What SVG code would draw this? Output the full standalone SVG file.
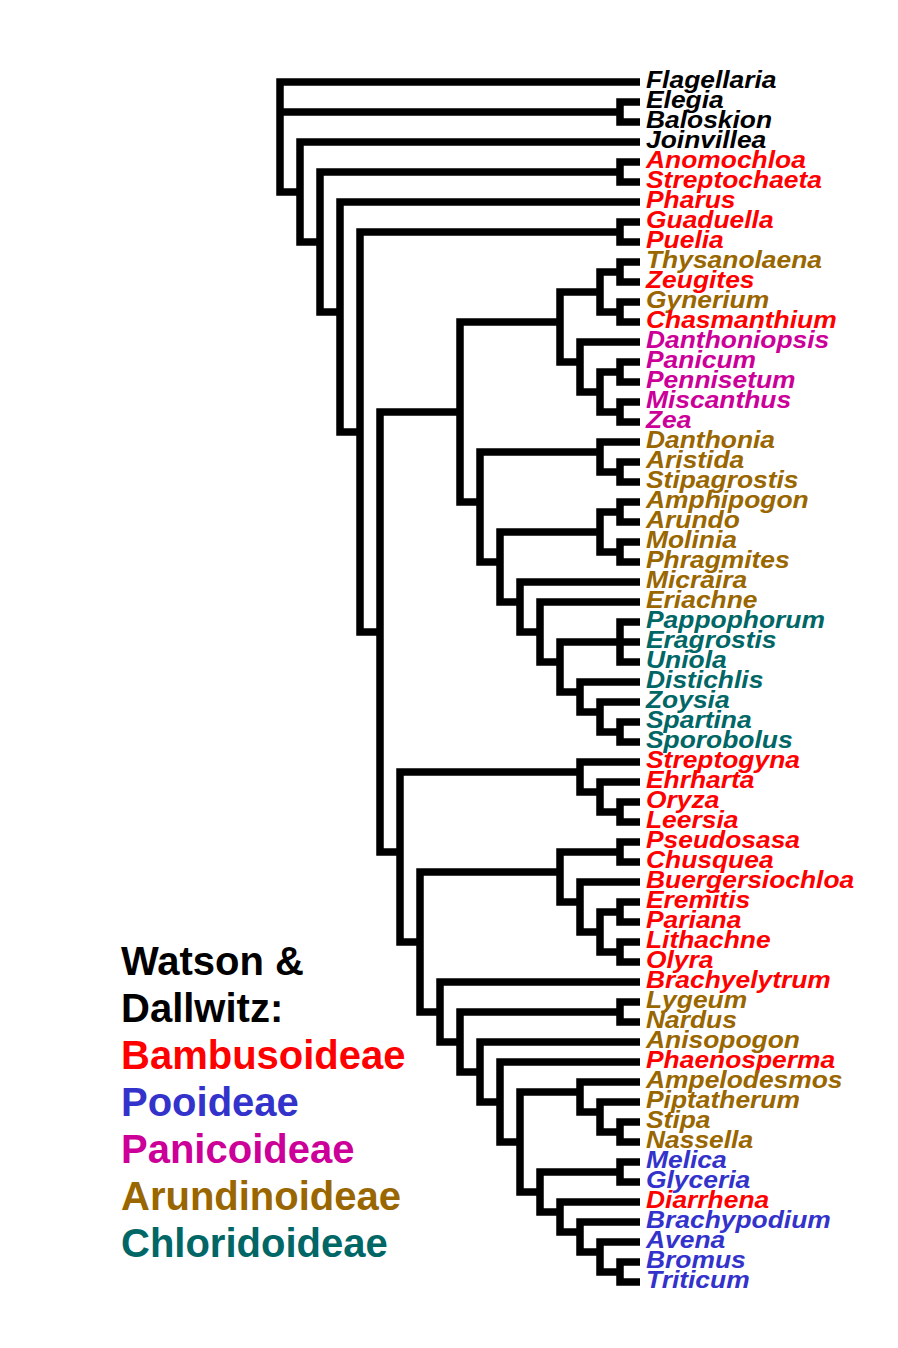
<svg xmlns="http://www.w3.org/2000/svg" width="898" height="1348" viewBox="0 0 898 1348">
<style>
.br{fill:none;stroke:#000;stroke-width:7.5;stroke-linejoin:miter;stroke-linecap:butt}
.lf{font-family:"Liberation Sans",Arial,sans-serif;font-weight:bold;font-style:italic;font-size:24px}
.lg{font-family:"Liberation Sans",Arial,sans-serif;font-weight:bold;font-size:40px}
.k{fill:#000}.r{fill:#ff0000}.b{fill:#3333cc}.m{fill:#cc0099}.a{fill:#996600}.c{fill:#006666}
</style>
<rect width="898" height="1348" fill="#fff"/>
<g id="connectors" class="br">
<path d="M640,82H280V192H300M280,112H620"/>
<path d="M640,102H620V122H640"/>
<path d="M640,142H300V242H320"/>
<path d="M620,172H320V312H340"/>
<path d="M640,162H620V182H640"/>
<path d="M640,202H340V432H360"/>
<path d="M620,232H360V632H380"/>
<path d="M640,222H620V242H640"/>
<path d="M460,412H380V852H400"/>
<path d="M560,322H460V502H480"/>
<path d="M600,292H560V362H580"/>
<path d="M620,272H600V312H620"/>
<path d="M640,262H620V282H640"/>
<path d="M640,302H620V322H640"/>
<path d="M640,342H580V392H600"/>
<path d="M620,372H600V412H620"/>
<path d="M640,362H620V382H640"/>
<path d="M640,402H620V422H640"/>
<path d="M600,452H480V562H500"/>
<path d="M640,442H600V472H620"/>
<path d="M640,462H620V482H640"/>
<path d="M600,532H500V602H520"/>
<path d="M620,512H600V552H620"/>
<path d="M640,502H620V522H640"/>
<path d="M640,542H620V562H640"/>
<path d="M640,582H520V632H540"/>
<path d="M640,602H540V662H560"/>
<path d="M620,642H560V692H580"/>
<path d="M640,622H620V662H640M620,642H640"/>
<path d="M640,682H580V712H600"/>
<path d="M640,702H600V732H620"/>
<path d="M640,722H620V742H640"/>
<path d="M580,772H400V942H420"/>
<path d="M640,762H580V792H600"/>
<path d="M640,782H600V812H620"/>
<path d="M640,802H620V822H640"/>
<path d="M560,872H420V1012H440"/>
<path d="M620,852H560V902H580"/>
<path d="M640,842H620V862H640"/>
<path d="M640,882H580V932H600"/>
<path d="M620,912H600V952H620"/>
<path d="M640,902H620V922H640"/>
<path d="M640,942H620V962H640"/>
<path d="M640,982H440V1042H460"/>
<path d="M620,1012H460V1072H480"/>
<path d="M640,1002H620V1022H640"/>
<path d="M640,1042H480V1102H500"/>
<path d="M640,1062H500V1142H520"/>
<path d="M580,1092H520V1192H540"/>
<path d="M640,1082H580V1112H600"/>
<path d="M640,1102H600V1132H620"/>
<path d="M640,1122H620V1142H640"/>
<path d="M620,1172H540V1212H560"/>
<path d="M640,1162H620V1182H640"/>
<path d="M640,1202H560V1232H580"/>
<path d="M640,1222H580V1252H600"/>
<path d="M640,1242H600V1272H620"/>
<path d="M640,1262H620V1282H640"/>
</g>
<g class="lf">
<g id="leaf-Flagellaria"><text class="k" transform="translate(646,87.5) scale(1.1,1)">Flagellaria</text></g>
<g id="leaf-Elegia"><text class="k" transform="translate(646,107.5) scale(1.1,1)">Elegia</text></g>
<g id="leaf-Baloskion"><text class="k" transform="translate(646,127.5) scale(1.1,1)">Baloskion</text></g>
<g id="leaf-Joinvillea"><text class="k" transform="translate(646,147.5) scale(1.1,1)">Joinvillea</text></g>
<g id="leaf-Anomochloa"><text class="r" transform="translate(646,167.5) scale(1.1,1)">Anomochloa</text></g>
<g id="leaf-Streptochaeta"><text class="r" transform="translate(646,187.5) scale(1.1,1)">Streptochaeta</text></g>
<g id="leaf-Pharus"><text class="r" transform="translate(646,207.5) scale(1.1,1)">Pharus</text></g>
<g id="leaf-Guaduella"><text class="r" transform="translate(646,227.5) scale(1.1,1)">Guaduella</text></g>
<g id="leaf-Puelia"><text class="r" transform="translate(646,247.5) scale(1.1,1)">Puelia</text></g>
<g id="leaf-Thysanolaena"><text class="a" transform="translate(646,267.5) scale(1.1,1)">Thysanolaena</text></g>
<g id="leaf-Zeugites"><text class="r" transform="translate(646,287.5) scale(1.1,1)">Zeugites</text></g>
<g id="leaf-Gynerium"><text class="a" transform="translate(646,307.5) scale(1.1,1)">Gynerium</text></g>
<g id="leaf-Chasmanthium"><text class="r" transform="translate(646,327.5) scale(1.1,1)">Chasmanthium</text></g>
<g id="leaf-Danthoniopsis"><text class="m" transform="translate(646,347.5) scale(1.1,1)">Danthoniopsis</text></g>
<g id="leaf-Panicum"><text class="m" transform="translate(646,367.5) scale(1.1,1)">Panicum</text></g>
<g id="leaf-Pennisetum"><text class="m" transform="translate(646,387.5) scale(1.1,1)">Pennisetum</text></g>
<g id="leaf-Miscanthus"><text class="m" transform="translate(646,407.5) scale(1.1,1)">Miscanthus</text></g>
<g id="leaf-Zea"><text class="m" transform="translate(646,427.5) scale(1.1,1)">Zea</text></g>
<g id="leaf-Danthonia"><text class="a" transform="translate(646,447.5) scale(1.1,1)">Danthonia</text></g>
<g id="leaf-Aristida"><text class="a" transform="translate(646,467.5) scale(1.1,1)">Aristida</text></g>
<g id="leaf-Stipagrostis"><text class="a" transform="translate(646,487.5) scale(1.1,1)">Stipagrostis</text></g>
<g id="leaf-Amphipogon"><text class="a" transform="translate(646,507.5) scale(1.1,1)">Amphipogon</text></g>
<g id="leaf-Arundo"><text class="a" transform="translate(646,527.5) scale(1.1,1)">Arundo</text></g>
<g id="leaf-Molinia"><text class="a" transform="translate(646,547.5) scale(1.1,1)">Molinia</text></g>
<g id="leaf-Phragmites"><text class="a" transform="translate(646,567.5) scale(1.1,1)">Phragmites</text></g>
<g id="leaf-Micraira"><text class="a" transform="translate(646,587.5) scale(1.1,1)">Micraira</text></g>
<g id="leaf-Eriachne"><text class="a" transform="translate(646,607.5) scale(1.1,1)">Eriachne</text></g>
<g id="leaf-Pappophorum"><text class="c" transform="translate(646,627.5) scale(1.1,1)">Pappophorum</text></g>
<g id="leaf-Eragrostis"><text class="c" transform="translate(646,647.5) scale(1.1,1)">Eragrostis</text></g>
<g id="leaf-Uniola"><text class="c" transform="translate(646,667.5) scale(1.1,1)">Uniola</text></g>
<g id="leaf-Distichlis"><text class="c" transform="translate(646,687.5) scale(1.1,1)">Distichlis</text></g>
<g id="leaf-Zoysia"><text class="c" transform="translate(646,707.5) scale(1.1,1)">Zoysia</text></g>
<g id="leaf-Spartina"><text class="c" transform="translate(646,727.5) scale(1.1,1)">Spartina</text></g>
<g id="leaf-Sporobolus"><text class="c" transform="translate(646,747.5) scale(1.1,1)">Sporobolus</text></g>
<g id="leaf-Streptogyna"><text class="r" transform="translate(646,767.5) scale(1.1,1)">Streptogyna</text></g>
<g id="leaf-Ehrharta"><text class="r" transform="translate(646,787.5) scale(1.1,1)">Ehrharta</text></g>
<g id="leaf-Oryza"><text class="r" transform="translate(646,807.5) scale(1.1,1)">Oryza</text></g>
<g id="leaf-Leersia"><text class="r" transform="translate(646,827.5) scale(1.1,1)">Leersia</text></g>
<g id="leaf-Pseudosasa"><text class="r" transform="translate(646,847.5) scale(1.1,1)">Pseudosasa</text></g>
<g id="leaf-Chusquea"><text class="r" transform="translate(646,867.5) scale(1.1,1)">Chusquea</text></g>
<g id="leaf-Buergersiochloa"><text class="r" transform="translate(646,887.5) scale(1.1,1)">Buergersiochloa</text></g>
<g id="leaf-Eremitis"><text class="r" transform="translate(646,907.5) scale(1.1,1)">Eremitis</text></g>
<g id="leaf-Pariana"><text class="r" transform="translate(646,927.5) scale(1.1,1)">Pariana</text></g>
<g id="leaf-Lithachne"><text class="r" transform="translate(646,947.5) scale(1.1,1)">Lithachne</text></g>
<g id="leaf-Olyra"><text class="r" transform="translate(646,967.5) scale(1.1,1)">Olyra</text></g>
<g id="leaf-Brachyelytrum"><text class="r" transform="translate(646,987.5) scale(1.1,1)">Brachyelytrum</text></g>
<g id="leaf-Lygeum"><text class="a" transform="translate(646,1007.5) scale(1.1,1)">Lygeum</text></g>
<g id="leaf-Nardus"><text class="a" transform="translate(646,1027.5) scale(1.1,1)">Nardus</text></g>
<g id="leaf-Anisopogon"><text class="a" transform="translate(646,1047.5) scale(1.1,1)">Anisopogon</text></g>
<g id="leaf-Phaenosperma"><text class="r" transform="translate(646,1067.5) scale(1.1,1)">Phaenosperma</text></g>
<g id="leaf-Ampelodesmos"><text class="a" transform="translate(646,1087.5) scale(1.1,1)">Ampelodesmos</text></g>
<g id="leaf-Piptatherum"><text class="a" transform="translate(646,1107.5) scale(1.1,1)">Piptatherum</text></g>
<g id="leaf-Stipa"><text class="a" transform="translate(646,1127.5) scale(1.1,1)">Stipa</text></g>
<g id="leaf-Nassella"><text class="a" transform="translate(646,1147.5) scale(1.1,1)">Nassella</text></g>
<g id="leaf-Melica"><text class="b" transform="translate(646,1167.5) scale(1.1,1)">Melica</text></g>
<g id="leaf-Glyceria"><text class="b" transform="translate(646,1187.5) scale(1.1,1)">Glyceria</text></g>
<g id="leaf-Diarrhena"><text class="r" transform="translate(646,1207.5) scale(1.1,1)">Diarrhena</text></g>
<g id="leaf-Brachypodium"><text class="b" transform="translate(646,1227.5) scale(1.1,1)">Brachypodium</text></g>
<g id="leaf-Avena"><text class="b" transform="translate(646,1247.5) scale(1.1,1)">Avena</text></g>
<g id="leaf-Bromus"><text class="b" transform="translate(646,1267.5) scale(1.1,1)">Bromus</text></g>
<g id="leaf-Triticum"><text class="b" transform="translate(646,1287.5) scale(1.1,1)">Triticum</text></g>
</g>
<g id="legend" class="lg">
<text class="k" x="121" y="975">Watson &amp;</text>
<text class="k" x="121" y="1022">Dallwitz:</text>
<text class="r" x="121" y="1069">Bambusoideae</text>
<text class="b" x="121" y="1116">Pooideae</text>
<text class="m" x="121" y="1163">Panicoideae</text>
<text class="a" x="121" y="1210">Arundinoideae</text>
<text class="c" x="121" y="1257">Chloridoideae</text>
</g>
</svg>
